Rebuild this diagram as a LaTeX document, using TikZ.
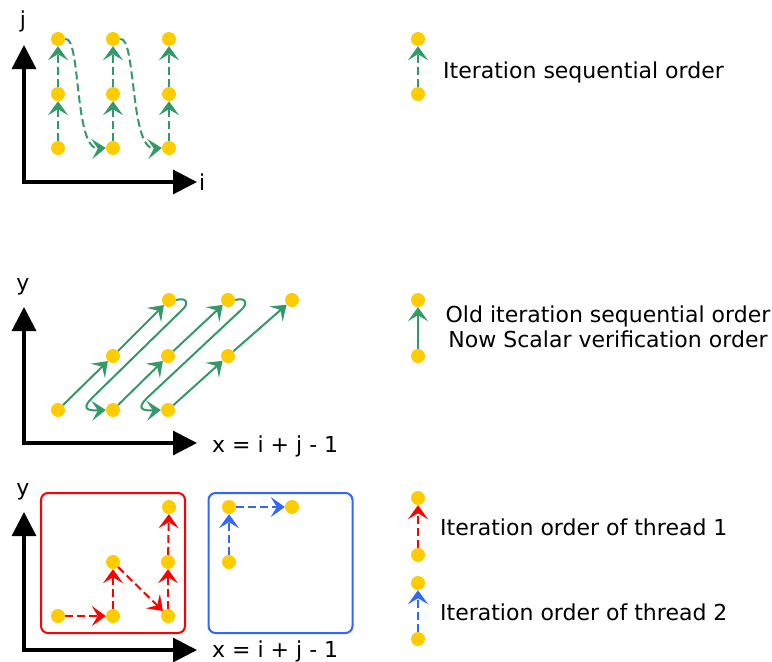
\documentclass[tikz,border=0pt]{standalone}
\usepackage{fontspec}
\setmainfont{DejaVu Sans}
\usetikzlibrary{arrows.meta}
\definecolor{dotY}{HTML}{FFCC00}
\definecolor{grn}{HTML}{339966}
\definecolor{rdd}{HTML}{FF0000}
\definecolor{blu}{HTML}{3366FF}
\begin{document}
\begin{tikzpicture}[x=1pt,y=-1pt,
  dot/.style={circle,fill=dotY,inner sep=0pt,minimum size=14pt},
  axis/.style={line width=3.2pt,line join=miter,{Triangle[length=24pt,width=24pt]}-{Triangle[length=24pt,width=24pt]}},
  tip/.style={-{Stealth[length=14pt,width=20pt,inset=6pt]}},
  ga/.style={grn,line width=2pt,tip},
  gd/.style={ga,dash pattern=on 8pt off 4pt},
  ra/.style={rdd,line width=2pt,tip,dash pattern=on 8pt off 4pt},
  ba/.style={blu,line width=2pt,tip,dash pattern=on 8pt off 4pt},
  lbl/.style={font=\fontsize{22}{26}\selectfont,inner sep=0pt},
  box/.style={draw,line width=2pt,rounded corners=7pt,minimum width=144pt,minimum height=140pt,inner sep=0pt}
]
\useasboundingbox (0,0) rectangle (772,662);

% ---------- panel 1 ----------
\coordinate (j1) at (24,45);
\coordinate (o1) at (24,182);
\coordinate (i1) at (197,182);
\draw[axis] (j1) -- (o1) -- (i1);
\node[lbl,anchor=base] (jl) at (23,27) {j};
\node[lbl,anchor=base west] (il) at (199,190) {i};

\node[dot] (a11) at (58,148) {};
\node[dot] (a12) at (58,94) {};
\node[dot] (a13) at (58,39) {};
\node[dot] (a21) at (113,148) {};
\node[dot] (a22) at (113,94) {};
\node[dot] (a23) at (113,39) {};
\node[dot] (a31) at (169,148) {};
\node[dot] (a32) at (169,94) {};
\node[dot] (a33) at (169,39) {};
\draw[gd] (a11) -- (a12);
\draw[gd] (a12) -- (a13);
\draw[gd] (a21) -- (a22);
\draw[gd] (a22) -- (a23);
\draw[gd] (a31) -- (a32);
\draw[gd] (a32) -- (a33);
\draw[gd] (a13.east) .. controls +(16,-3) and +(-32,2) .. (a21.west);
\draw[gd] (a23.east) .. controls +(16,-3) and +(-32,2) .. (a31.west);

% legend 1
\node[dot] (l1) at (418,94) {};
\node[dot] (l2) at (418,39) {};
\draw[gd] (l1) -- (l2);
\node[lbl,anchor=base west] (t1) at (443,78) {Iteration sequential order};

% ---------- panel 2 ----------
\coordinate (j2) at (24,307);
\coordinate (o2) at (24,443);
\coordinate (i2) at (197,443);
\draw[axis] (j2) -- (o2) -- (i2);
\node[lbl,anchor=base] (yl2) at (23,290) {y};
\node[lbl,anchor=base west] (xl2) at (212,452) {x = i + j - 1};

\node[dot] (p1) at (58,410) {};
\node[dot] (p2) at (113,356) {};
\node[dot] (p3) at (169,300) {};
\node[dot] (p4) at (113,410) {};
\node[dot] (p5) at (168,356) {};
\node[dot] (p6) at (228,300) {};
\node[dot] (p7) at (168,410) {};
\node[dot] (p8) at (228,356) {};
\node[dot] (p9) at (292,300) {};
\draw[ga] (p1) -- (p2);
\draw[ga] (p2) -- (p3);
\draw[ga] (p4) -- (p5);
\draw[ga] (p5) -- (p6);
\draw[ga] (p7) -- (p8);
\draw[ga] (p8) -- (p9);
\draw[ga] (p3.east) .. controls (186,297) and (190,303) .. (182,310) -- (92,398) .. controls (82,408) and (86,411) .. (p4.west);
\draw[ga] (p6.east) .. controls (245,297) and (249,303) .. (241,310) -- (147,398) .. controls (137,408) and (141,411) .. (p7.west);

% legend 2
\node[dot] (l3) at (418,356) {};
\node[dot] (l4) at (418,300) {};
\draw[ga] (l3) -- (l4);
\node[lbl,anchor=base] (t2a) at (608,322) {Old iteration sequential order};
\node[lbl,anchor=base] (t2b) at (608,347) {Now Scalar verification order};

% ---------- panel 3 ----------
\coordinate (j3) at (24,512);
\coordinate (o3) at (24,650);
\coordinate (i3) at (197,650);
\draw[axis] (j3) -- (o3) -- (i3);
\node[lbl,anchor=base] (yl3) at (23,495) {y};
\node[lbl,anchor=base west] (xl3) at (212,657) {x = i + j - 1};

\node[box,rdd] (bx1) at (113,563) {};
\node[box,blu] (bx2) at (280.5,563) {};

\node[dot] (r1) at (58,616) {};
\node[dot] (r2) at (113,616) {};
\node[dot] (r3) at (113,562) {};
\node[dot] (r4) at (168,616) {};
\node[dot] (r5) at (168,562) {};
\node[dot] (r6) at (169,507) {};
\draw[ra] (r1) -- (r2);
\draw[ra] (r2) -- (r3);
\draw[ra] (r3) -- (r4);
\draw[ra] (r4) -- (r5);
\draw[ra] (r5) -- (r6);

\node[dot] (q1) at (229,562) {};
\node[dot] (q2) at (229,507) {};
\node[dot] (q3) at (292,507) {};
\draw[ba] (q1) -- (q2);
\draw[ba] (q2) -- (q3);

% legend 3
\node[dot] (l5) at (418,555) {};
\node[dot] (l6) at (418,498) {};
\draw[ra] (l5) -- (l6);
\node[lbl,anchor=base west] (t3) at (440,535) {Iteration order of thread 1};
\node[dot] (l7) at (418,639) {};
\node[dot] (l8) at (418,583) {};
\draw[ba] (l7) -- (l8);
\node[lbl,anchor=base west] (t4) at (440,620) {Iteration order of thread 2};
\end{tikzpicture}
\end{document}
